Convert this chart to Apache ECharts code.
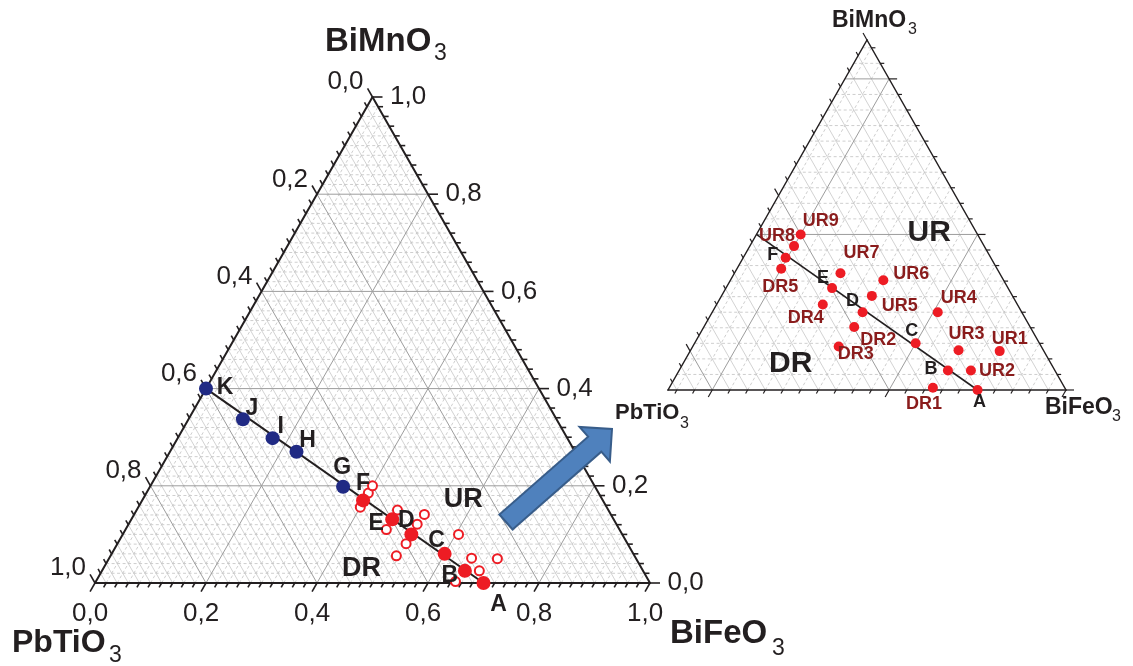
<!DOCTYPE html>
<html><head><meta charset="utf-8">
<script src="https://cdn.jsdelivr.net/npm/echarts@6/dist/echarts.min.js"></script>
<style>html,body{margin:0;padding:0;background:#fff;}#c{width:1133px;height:666px;}</style>
</head><body><div id="c"></div>
<script>
// ---------------- data ----------------
const tickLabels = ['0,0','0,2','0,4','0,6','0,8','1,0'];
const tickLabelValues = [0, 0.2, 0.4, 0.6, 0.8, 1.0];
const blueNames   = ['K','J','I','H','G'];
const blueBiFeO3  = [0.000, 0.098, 0.171, 0.228, 0.348];
const blueBiMnO3  = [0.400, 0.337, 0.298, 0.270, 0.198];
const lineNames   = ['F','E','D','C','B','A'];
const lineBiFeO3  = [0.398, 0.470, 0.520, 0.600, 0.654, 0.700];
const lineBiMnO3  = [0.170, 0.131, 0.100, 0.060, 0.025, 0.000];
const sampleNames  = ['UR1','UR2','UR3','UR4','UR5','UR6','UR7','UR8','UR9','DR1','DR2','DR3','DR4','DR5'];
const sampleBiFeO3 = [0.700,0.680,0.653,0.605,0.520,0.523,0.470,0.400,0.400,0.648,0.520,0.515,0.470,0.400];
const sampleBiMnO3 = [0.050,0.025,0.051,0.100,0.121,0.141,0.150,0.185,0.200,0.003,0.081,0.056,0.110,0.156];
const tieLine = {from:'K', to:'A'};
const zoomLower = {PbTiO3:0.20, BiFeO3:0.35, BiMnO3:0.00};
const zoomSide = 0.45;
const regionNames = ['UR','DR'];

// ---------------- layout / styles ----------------
const FONT = '"Liberation Sans", Arial, Helvetica, sans-serif';
const TXT = '#231F20', RED = '#ED1C24', DARKRED = '#8A1C1C', BLUE = '#202A84';
const regionPosLeft  = {UR:[0.578,0.171], DR:[0.465,0.030]};
const regionPosRight = {UR:[0.544,0.2025], DR:[0.472,0.0334]};
const offLeft = {K:[19,-1],J:[9,-11],I:[8,-12],H:[11,-11],G:[-1,-19],F:[0,-17],E:[-16,4],D:[-5,-14],C:[-8,-13],B:[-15,5],A:[15,22]};
const offRight = {F:[-13,-3],E:[-9,-10],D:[-10,-11],C:[-4,-12],B:[-17,-2],A:[2,12],
  UR1:[10,-12],UR2:[26,0],UR3:[8,-16],UR4:[21,-14],UR5:[28,10],UR6:[28,-6],UR7:[21,-20],UR8:[-17,-10],UR9:[20,-13],
  DR1:[-9,16],DR2:[24,13],DR3:[17,8],DR4:[-17,14],DR5:[-1,18]};

const H = Math.sqrt(3)/2;
const xy = (f,m) => [f + m/2, m*H];
const STEP = 0.02, MAJOR = 0.2, EPS = 1e-6;
const tris = [
  {pmin:0, fmin:0, mmin:0, S:1, grid:{left:95, top:97, width:555, height:486}, axisW:2, tl:[10,5], tw:1.6},
  {pmin:zoomLower.PbTiO3, fmin:zoomLower.BiFeO3, mmin:zoomLower.BiMnO3, S:zoomSide,
   grid:{left:668, top:40, width:398, height:350}, axisW:1.5, tl:[8,4], tw:1.2}
];
function steps(lo, hi, incl){
  const out=[]; const n=Math.round(1/STEP);
  for(let k=0;k<=n;k++){ const v=+(k*STEP).toFixed(6);
    if(incl ? (v>=lo-EPS && v<=hi+EPS) : (v>lo+EPS && v<hi-EPS)) out.push(v); }
  return out;
}
const isMajor = v => Math.abs(v/MAJOR - Math.round(v/MAJOR)) < 1e-4;
function gridSegs(t){
  const maj=[], solid=[], dash=[]; const {pmin,fmin,mmin,S}=t;
  steps(mmin,mmin+S,false).forEach(v=>{ const s=[...xy(fmin,v),...xy(1-pmin-v,v)]; (isMajor(v)?maj:dash).push(s); });
  steps(fmin,fmin+S,false).forEach(v=>{ const s=[...xy(v,mmin),...xy(v,1-pmin-v)]; (isMajor(v)?maj:dash).push(s); });
  steps(pmin,pmin+S,false).forEach(v=>{ const s=[...xy(fmin,1-v-fmin),...xy(1-v-mmin,mmin)]; (isMajor(v)?maj:solid).push(s); });
  return {maj, solid, dash};
}
function edgeSegs(t){
  const {pmin,fmin,mmin}=t;
  const a=xy(fmin,mmin), b=xy(1-pmin-mmin,mmin), c=xy(fmin,1-pmin-fmin);
  return [[...a,...b],[...b,...c],[...c,...a]];
}
function tickData(t){
  const out=[]; const {pmin,fmin,mmin,S}=t;
  steps(fmin,fmin+S,true).forEach(v=>out.push([...xy(v,mmin), -0.5,-H, isMajor(v)?1:0]));
  steps(mmin,mmin+S,true).forEach(v=>out.push([...xy(1-pmin-v,v), 1,0, isMajor(v)?1:0]));
  steps(pmin,pmin+S,true).forEach(v=>out.push([...xy(fmin,1-v-fmin), -0.5,H, isMajor(v)?1:0]));
  return out;
}
function tickLabelData(){
  const out=[];
  tickLabelValues.forEach((v,i)=>{
    out.push([...xy(v,0), -0.5,-H, 0, i]);      // bottom: BiFeO3
    out.push([...xy(1-v,v), 1,0, 1, i]);        // right: BiMnO3
    out.push([...xy(0,1-v), -0.5,H, 2, i]);     // left: PbTiO3
  });
  return out;
}
function segRender(style){
  return (params, api)=>{
    const a=api.coord([api.value(0),api.value(1)]), b=api.coord([api.value(2),api.value(3)]);
    return {type:'line', shape:{x1:a[0],y1:a[1],x2:b[0],y2:b[1]}, style:style, silent:true};
  };
}
function tipOf(api, L){
  const x=api.value(0), y=api.value(1), dx=api.value(2), dy=api.value(3);
  const p0=api.coord([x,y]), p1=api.coord([x+dx*0.01,y+dy*0.01]);
  let ux=p1[0]-p0[0], uy=p1[1]-p0[1]; const n=Math.hypot(ux,uy); ux/=n; uy/=n;
  return [p0, [p0[0]+ux*L, p0[1]+uy*L]];
}
function tickRender(t){
  return (params, api)=>{
    const L = api.value(4) ? t.tl[0] : t.tl[1];
    const [p0,p1]=tipOf(api,L);
    return {type:'line', shape:{x1:p0[0],y1:p0[1],x2:p1[0],y2:p1[1]}, style:{stroke:TXT, lineWidth:t.tw}, silent:true};
  };
}
function tickLabelRender(params, api){
  const [p0,p1]=tipOf(api,10);
  const edge=api.value(4), txt=tickLabels[api.value(5)];
  let x=p1[0], y=p1[1], align='center';
  if(edge===0){ y+=22; }
  else if(edge===1){ x+=7.5; align='left'; }
  else { x-=4; y-=6; align='right'; }
  return {type:'text', x:x, y:y, style:{text:txt, font:'26px '+FONT, fill:TXT, align:align, verticalAlign:'middle', textAlign:align, textVerticalAlign:'middle'}, silent:true};
}
function clipLine(t, A, B){
  let lo=0, hi=1;
  const cons=[
    [A[0]-t.fmin, B[0]-A[0]],
    [A[1]-t.mmin, B[1]-A[1]],
    [(1-A[0]-A[1])-t.pmin, -(B[0]-A[0])-(B[1]-A[1])]
  ];
  cons.forEach(([c0,c1])=>{ if(Math.abs(c1)<1e-12) return; const r=-c0/c1; if(c1>0) lo=Math.max(lo,r); else hi=Math.min(hi,r); });
  const P=s=>xy(A[0]+(B[0]-A[0])*s, A[1]+(B[1]-A[1])*s);
  return [P(lo),P(hi)];
}
function findPoint(name){
  let i=blueNames.indexOf(name); if(i>=0) return [blueBiFeO3[i], blueBiMnO3[i]];
  i=lineNames.indexOf(name); return [lineBiFeO3[i], lineBiMnO3[i]];
}
function pts(names, F, M, offs, labelStyle){
  return names.map((n,i)=>({name:n, value:xy(F[i],M[i]),
    label: labelStyle ? Object.assign({offset: offs[n]||[0,0]}, labelStyle) : {show:false}}));
}

const series=[];
tris.forEach((t,gi)=>{
  const g=gridSegs(t);
  const ax={xAxisIndex:gi, yAxisIndex:gi, silent:true, animation:false};
  series.push(Object.assign({type:'custom', z:1, data:g.dash, renderItem:segRender({stroke:'#c2c2c2', lineWidth:0.8, lineDash:[3,2.5]})},ax));
  series.push(Object.assign({type:'custom', z:1, data:g.solid, renderItem:segRender({stroke:'#c6c6c6', lineWidth:0.8})},ax));
  series.push(Object.assign({type:'custom', z:2, data:g.maj, renderItem:segRender({stroke:'#9d9d9d', lineWidth:1})},ax));
  series.push(Object.assign({type:'custom', z:4, data:edgeSegs(t), renderItem:segRender({stroke:TXT, lineWidth:t.axisW, lineCap:'round'})},ax));
  series.push(Object.assign({type:'custom', z:4, data:tickData(t), renderItem:tickRender(t)},ax));
  const ends=clipLine(t, findPoint(tieLine.to), findPoint(tieLine.from));
  series.push(Object.assign({type:'line', z:3, data:ends, symbol:'none', lineStyle:{color:TXT, width:gi===0?2:1.6}},ax));
});
series.push({type:'custom', xAxisIndex:0, yAxisIndex:0, z:5, silent:true, animation:false, data:tickLabelData(), renderItem:tickLabelRender});

const letterL = {show:true, position:'inside', formatter:'{b}', color:TXT, fontSize:23, fontWeight:'bold', fontFamily:FONT};
const letterR = {show:true, position:'inside', formatter:'{b}', color:TXT, fontSize:18, fontWeight:'bold', fontFamily:FONT};
const sampR   = {show:true, position:'inside', formatter:'{b}', color:DARKRED, fontSize:18, fontWeight:'bold', fontFamily:FONT};
const base0={xAxisIndex:0,yAxisIndex:0,silent:true,animation:false,z:6};
const base1={xAxisIndex:1,yAxisIndex:1,silent:true,animation:false,z:6};
// left triangle
series.push(Object.assign({type:'scatter', symbolSize:9, itemStyle:{color:'#fff', borderColor:RED, borderWidth:2, opacity:1},
  data:pts(sampleNames, sampleBiFeO3, sampleBiMnO3, offLeft, null)}, base0));
series.push(Object.assign({type:'scatter', symbolSize:14, itemStyle:{color:RED, opacity:1},
  data:pts(lineNames, lineBiFeO3, lineBiMnO3, offLeft, letterL)}, base0));
series.push(Object.assign({type:'scatter', symbolSize:14, itemStyle:{color:BLUE, opacity:1},
  data:pts(blueNames, blueBiFeO3, blueBiMnO3, offLeft, letterL)}, base0));
series.push(Object.assign({type:'scatter', symbolSize:0, itemStyle:{opacity:1},
  data:regionNames.map(n=>({name:n, value:xy(...regionPosLeft[n])})),
  label:{show:true, position:'inside', formatter:'{b}', color:TXT, fontSize:27, fontWeight:'bold', fontFamily:FONT}}, base0));
// right triangle
series.push(Object.assign({type:'scatter', symbolSize:10, itemStyle:{color:RED, opacity:1},
  data:pts(sampleNames, sampleBiFeO3, sampleBiMnO3, offRight, sampR)}, base1));
series.push(Object.assign({type:'scatter', symbolSize:10, itemStyle:{color:RED, opacity:1},
  data:pts(lineNames, lineBiFeO3, lineBiMnO3, offRight, letterR)}, base1));
series.push(Object.assign({type:'scatter', symbolSize:0, itemStyle:{opacity:1},
  data:regionNames.map(n=>({name:n, value:xy(...regionPosRight[n])})),
  label:{show:true, position:'inside', formatter:'{b}', color:TXT, fontSize:30, fontWeight:'bold', fontFamily:FONT}}, base1));

// vertex titles (text layout)
const titles = [
  ['BiMnO',325,41.5,33, 434,54,23], ['PbTiO',12,643,32, 109,656,23], ['BiFeO',670,633.5,33, 772,649,23],
  ['BiMnO',832,21,23, 908,29.5,16], ['PbTiO',615,412.5,22, 680,423.5,16], ['BiFeO',1045,407.5,23, 1112,416.5,16]
];
const graphic=[];
titles.forEach(([t,x,y,fs,sx,sy,ss])=>{
  graphic.push({type:'text', x:x, y:y, silent:true, z:10, style:{text:t, font:'bold '+fs+'px '+FONT, fill:TXT, align:'left', verticalAlign:'middle', textAlign:'left', textVerticalAlign:'middle'}});
  graphic.push({type:'text', x:sx, y:sy, silent:true, z:10, style:{text:'3', font:ss+'px '+FONT, fill:TXT, align:'left', verticalAlign:'middle', textAlign:'left', textVerticalAlign:'middle'}});
});
// blue arrow
(function(){
  const T=[506,522], P=[612,429]; const hl=23, hw=23, sw=10;
  const L=Math.hypot(P[0]-T[0],P[1]-T[1]); const u=[(P[0]-T[0])/L,(P[1]-T[1])/L]; const n=[-u[1],u[0]];
  const B=[P[0]-u[0]*hl, P[1]-u[1]*hl];
  const q=(p,k)=>[p[0]+n[0]*k, p[1]+n[1]*k];
  graphic.push({type:'polygon', z:20, silent:true, shape:{points:[q(T,sw),q(B,sw),q(B,hw),P,q(B,-hw),q(B,-sw),q(T,-sw)]},
    style:{fill:'#4F81BD', stroke:'#385D8A', lineWidth:2, lineJoin:'miter'}});
})();

const chart = echarts.init(document.getElementById('c'), null, {renderer:'canvas'});
chart.setOption({
  animation:false,
  backgroundColor:'#fff',
  grid: tris.map(t=>Object.assign({}, t.grid)),
  xAxis: tris.map((t,i)=>({gridIndex:i, type:'value', min:t.fmin+t.mmin/2, max:t.fmin+t.mmin/2+t.S, show:false})),
  yAxis: tris.map((t,i)=>({gridIndex:i, type:'value', min:t.mmin*H, max:(t.mmin+t.S)*H, show:false})),
  series: series,
  graphic: graphic
});
</script></body></html>
